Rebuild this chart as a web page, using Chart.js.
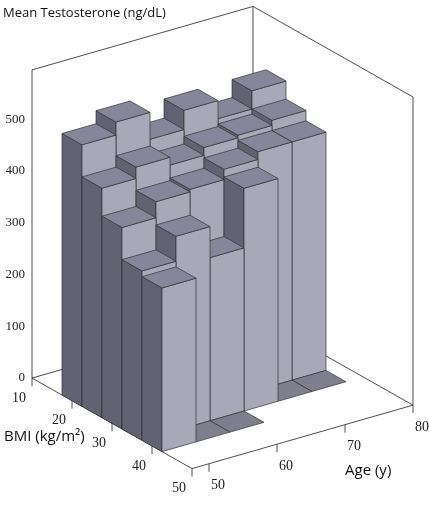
<!DOCTYPE html>
<html>
<head>
<meta charset="utf-8">
<script src="https://cdn.jsdelivr.net/npm/chart.js@4.4.1/dist/chart.umd.min.js"></script>
<style>
  html, body { margin: 0; padding: 0; background: #fff; }
  #wrap { width: 429px; height: 507px; }
</style>
</head>
<body>
<div id="wrap"><canvas id="canvas"></canvas></div>
<script>
// bins: BMI rows (centre, width 5) x age columns (centre, width 5)
const bmiBins = [20, 25, 30, 35, 40];
const ageBins = [50, 55, 60, 65, 70, 75];
// mean testosterone (ng/dL); 0 = empty bin (floor tile only), null = nothing
const row20 = [505, 530, 478, 515, 480, 515];
const row25 = [443, 465, 450, 465, 470, 480];
const row30 = [389, 420, 425, 445, 460, 460];
const row35 = [327, 375, 315, 430, 0, 0];
const row40 = [316, 0, 0, null, null, null];
const rows = [row20, row25, row30, row35, row40];

const bmiTicks = [10, 20, 30, 40, 50];
const ageTicks = [50, 60, 70, 80];
const valueTicks = [0, 100, 200, 300, 400, 500];

const serif = "'Liberation Serif', 'Times New Roman', 'DejaVu Serif', serif";

// projection of the 3d box onto the two chart scales
const bmiMin = 10, ageMin = 47.5, wallTop = 595;
function px(chart, bmi, age, v) {
    let u = (bmi - bmiMin) * 4 + (age - ageMin) * 6.8;
    let w = v - (bmi - bmiMin) * 4.37 + (age - ageMin) * 3.77;
    return [chart.scales.x.getPixelForValue(u), chart.scales.y.getPixelForValue(w)];
}

function poly(ctx, pts, fill) {
    ctx.beginPath();
    ctx.moveTo(pts[0][0], pts[0][1]);
    for (let i = 1; i < pts.length; i++) ctx.lineTo(pts[i][0], pts[i][1]);
    ctx.closePath();
    if (fill) { ctx.fillStyle = fill; ctx.fill(); }
    ctx.stroke();
}

const bars3d = {
    id: "bars3d",
    afterDraw(chart) {
        const ctx = chart.ctx;
        const P = (b, a, v) => px(chart, b, a, v);
        ctx.save();
        ctx.strokeStyle = "#222";
        ctx.lineWidth = 0.8;

        // back walls
        ctx.beginPath();
        let c1 = P(10, ageMin, 0), c2 = P(10, 80, 0), c3 = P(50, 80, 0);
        let t1 = P(10, ageMin, wallTop), t2 = P(10, 80, wallTop), t3 = P(50, 80, wallTop);
        ctx.moveTo(c1[0], c1[1]); ctx.lineTo(t1[0], t1[1]); ctx.lineTo(t2[0], t2[1]); ctx.lineTo(t3[0], t3[1]); ctx.lineTo(c3[0], c3[1]);
        ctx.moveTo(t2[0], t2[1]); ctx.lineTo(c2[0], c2[1]);
        ctx.moveTo(c1[0], c1[1]); ctx.lineTo(c2[0], c2[1]); ctx.lineTo(c3[0], c3[1]);
        ctx.stroke();

        // floor axes with ticks
        let f0 = P(50, ageMin, 0);
        ctx.beginPath();
        ctx.moveTo(c1[0], c1[1]); ctx.lineTo(f0[0], f0[1]); ctx.lineTo(c3[0], c3[1]);
        ctx.stroke();
        ctx.fillStyle = "#222";
        ctx.font = "14px " + serif;
        ctx.textBaseline = "middle";
        bmiTicks.forEach(b => {
            let p = P(b, ageMin, 0);
            ctx.beginPath(); ctx.moveTo(p[0], p[1]); ctx.lineTo(p[0], p[1] + 8); ctx.stroke();
            ctx.textAlign = "right";
            ctx.fillText(String(b), p[0] - 6, p[1] + 20);
        });
        ageTicks.forEach(a => {
            let p = P(50, a, 0);
            ctx.beginPath(); ctx.moveTo(p[0], p[1]); ctx.lineTo(p[0], p[1] + 8); ctx.stroke();
            ctx.textAlign = "left";
            ctx.fillText(String(a), p[0] + 2, p[1] + 22);
        });

        // bars, back to front
        ctx.strokeStyle = "#333";
        ctx.lineWidth = 0.7;
        for (let r = 0; r < rows.length; r++) {
            for (let c = ageBins.length - 1; c >= 0; c--) {
                let v = rows[r][c];
                if (v === null) continue;
                let b0 = bmiBins[r] - 2.5, b1 = bmiBins[r] + 2.5;
                let a0 = ageBins[c] - 2.5, a1 = ageBins[c] + 2.5;
                if (v === 0) {
                    poly(ctx, [P(b0, a0, 0), P(b0, a1, 0), P(b1, a1, 0), P(b1, a0, 0)], "#7e7e8e");
                    continue;
                }
                // side facing low age
                poly(ctx, [P(b0, a0, 0), P(b1, a0, 0), P(b1, a0, v), P(b0, a0, v)], "#626272");
                // side facing high BMI
                poly(ctx, [P(b1, a0, 0), P(b1, a1, 0), P(b1, a1, v), P(b1, a0, v)], "#a8a8b8");
                // top
                poly(ctx, [P(b0, a0, v), P(b0, a1, v), P(b1, a1, v), P(b1, a0, v)], "#86869a");
            }
        }

        // titles
        ctx.fillStyle = "#111";
        ctx.textAlign = "left";
        ctx.textBaseline = "alphabetic";
        ctx.font = "13px 'Open Sans'";
        ctx.fillText("Mean Testosterone (ng/dL)", 3, 17);
        ctx.font = "15px 'Open Sans'";
        ctx.fillText("BMI (kg/m\u00B2)", 4, 441);
        ctx.fillText("Age (y)", 345, 475);
        ctx.restore();
    }
};

new Chart(document.getElementById("canvas"), {
    type: "scatter",
    data: { datasets: [{ data: [] }] },
    options: {
        responsive: true,
        maintainAspectRatio: false,
        animation: false,
        layout: { padding: { top: 8, bottom: 9, right: 0 } },
        plugins: { legend: { display: false }, tooltip: { enabled: false } },
        scales: {
            x: { type: "linear", min: 0, max: 397, display: false },
            y: {
                type: "linear", min: -230, max: 711,
                afterFit: s => { s.width = 32; },
                afterBuildTicks: s => { s.ticks = valueTicks.map(v => ({ value: v })); },
                grid: { display: false, drawTicks: true, tickLength: 5 },
                border: { display: false },
                ticks: { color: "#222", font: { family: serif, size: 13 }, padding: 2 }
            }
        }
    },
    plugins: [bars3d]
});
</script>
</body>
</html>
